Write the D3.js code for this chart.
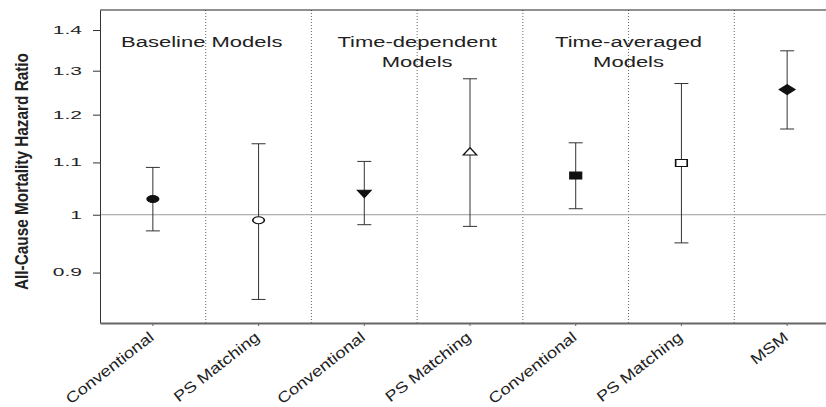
<!DOCTYPE html>
<html>
<head>
<meta charset="utf-8">
<script src="https://cdn.jsdelivr.net/npm/d3@7"></script>
<style>
  body { margin: 0; background: #fff; }
  svg { display: block; font-family: "Liberation Sans", Arial, sans-serif; }
</style>
</head>
<body>
<div class="chart"></div>
<script>
// hazard ratios with 95% CI
const categories = ["Conventional", "PS Matching", "Conventional", "PS Matching", "Conventional", "PS Matching", "MSM"]
const estimates = [1.029, 0.990, 1.041, 1.120, 1.074, 1.099, 1.256]
const lowerCI = [0.971, 0.857, 0.982, 0.979, 1.011, 0.950, 1.169]
const upperCI = [1.090, 1.138, 1.102, 1.281, 1.140, 1.270, 1.348]
const markerTypes = ["circle", "circle", "triangleDown", "triangleUp", "square", "square", "diamond"]
const markerFilled = [true, false, true, false, true, false, true]
const groupLabels = [["Baseline Models"], ["Time-dependent", "Models"], ["Time-averaged", "Models"]]
const yTicks = [0.9, 1, 1.1, 1.2, 1.3, 1.4]

const margin = {top: 10, left: 100},
    width = 740,   // plot runs past the right edge of the picture
    height = 313;

const svg = d3.select(".chart")
    .append("svg")
        .attr("width", 826)
        .attr("height", 407)
        .style("overflow", "hidden")

const g = svg.append("g")
    .attr("transform", "translate(" + margin.left + "," + margin.top + ")")

let x = d3.scaleBand()
    .domain(d3.range(categories.length))
    .range([0, width])
    .padding(0)

let y = d3.scaleLog()
    .domain([0.821, 1.452])
    .range([height, 0])

const cx = i => x(i) + x.bandwidth() / 2

// dotted separators between categories
g.selectAll(".sep")
    .data(d3.range(1, categories.length))
    .enter()
    .append("line")
        .attr("x1", d => x(d))
        .attr("x2", d => x(d))
        .attr("y1", 0)
        .attr("y2", height)
        .attr("stroke", "#666")
        .attr("stroke-dasharray", "1,2")

// top frame line
g.append("line")
    .attr("x1", 0).attr("x2", width)
    .attr("y1", 0).attr("y2", 0)
    .attr("stroke", "#222")

// reference line at HR = 1
g.append("line")
    .attr("x1", 0).attr("x2", width)
    .attr("y1", y(1)).attr("y2", y(1))
    .attr("stroke", "#9a9a9a")

// axes
const yAxis = g.append("g")
    .call(d3.axisLeft(y).tickValues(yTicks).tickFormat(d => String(d)).tickSize(7).tickSizeOuter(0))
yAxis.select(".domain").attr("stroke", "#333")
yAxis.selectAll(".tick line").attr("stroke", "#333")
yAxis.selectAll("text")
    .attr("x", -9)
    .attr("transform", "scale(2,1)")
    .attr("font-size", 10.5)
    .attr("fill", "#222")

const xAxis = g.append("g")
    .attr("transform", "translate(0," + height + ")")
    .call(d3.axisBottom(x).tickFormat(i => categories[i]).tickSize(3).tickSizeOuter(0))
xAxis.select(".domain").attr("stroke", "#666").attr("stroke-width", 2)
xAxis.selectAll(".tick line").attr("stroke", "#666")
xAxis.selectAll("text")
    .attr("x", 0)
    .attr("y", 0)
    .attr("dy", 0)
    .attr("font-size", 15)
    .attr("fill", "#222")
    .style("text-anchor", "end")
    .attr("transform", "translate(2,16) rotate(-38) scale(1.22,1)")

// error bars
const bars = g.selectAll(".bar")
    .data(d3.range(categories.length))
    .enter()
    .append("g")
        .attr("transform", d => "translate(" + cx(d) + ",0)")
        .attr("stroke", "#333")

bars.append("line")
    .attr("y1", d => y(lowerCI[d]))
    .attr("y2", d => y(upperCI[d]))
bars.append("line")
    .attr("x1", -7).attr("x2", 7)
    .attr("y1", d => y(lowerCI[d])).attr("y2", d => y(lowerCI[d]))
bars.append("line")
    .attr("x1", -7).attr("x2", 7)
    .attr("y1", d => y(upperCI[d])).attr("y2", d => y(upperCI[d]))

// markers
function markerPath(type) {
    if (type == "circle") return d3.symbol(d3.symbolCircle, 38.5)()
    if (type == "square" || type == "diamond") return d3.symbol(d3.symbolSquare, type == "diamond" ? 50 : 49)()
    return d3.symbol(d3.symbolTriangle, 31)()
}
function markerTransform(i) {
    let t = "translate(" + cx(i) + "," + y(estimates[i]) + ")"
    if (markerTypes[i] == "diamond") return t + " scale(1.57,1) rotate(45)"
    if (markerTypes[i] == "triangleDown") return t + " scale(1.6,1) rotate(180)"
    if (markerTypes[i] == "triangleUp") return t + " scale(1.6,1)"
    return t + " scale(1.65,1)"
}

g.selectAll(".marker")
    .data(d3.range(categories.length))
    .enter()
    .append("path")
        .attr("d", d => markerPath(markerTypes[d]))
        .attr("transform", d => markerTransform(d))
        .attr("fill", d => markerFilled[d] ? "#111" : "#fff")
        .attr("stroke", "#111")
        .attr("stroke-width", 1)

// group headings, centred on the boundary inside each pair
groupLabels.forEach((lines, k) => {
    lines.forEach((txt, j) => {
        g.append("text")
            .attr("transform", "translate(" + (x(2 * k + 1) - (k == 0 ? 4 : 0)) + "," + (37 + j * 19.5) + ") scale(1.42,1)")
            .attr("text-anchor", "middle")
            .attr("font-size", 15.5)
            .attr("fill", "#222")
            .text(txt)
    })
})

svg.append("text")
    .attr("transform", "translate(28,171.5) rotate(-90)")
    .attr("text-anchor", "middle")
    .attr("font-size", 18)
    .attr("font-weight", "bold")
    .attr("fill", "#222")
    .attr("textLength", 237)
    .attr("lengthAdjust", "spacingAndGlyphs")
    .text("All-Cause Mortality Hazard Ratio")
</script>
</body>
</html>
